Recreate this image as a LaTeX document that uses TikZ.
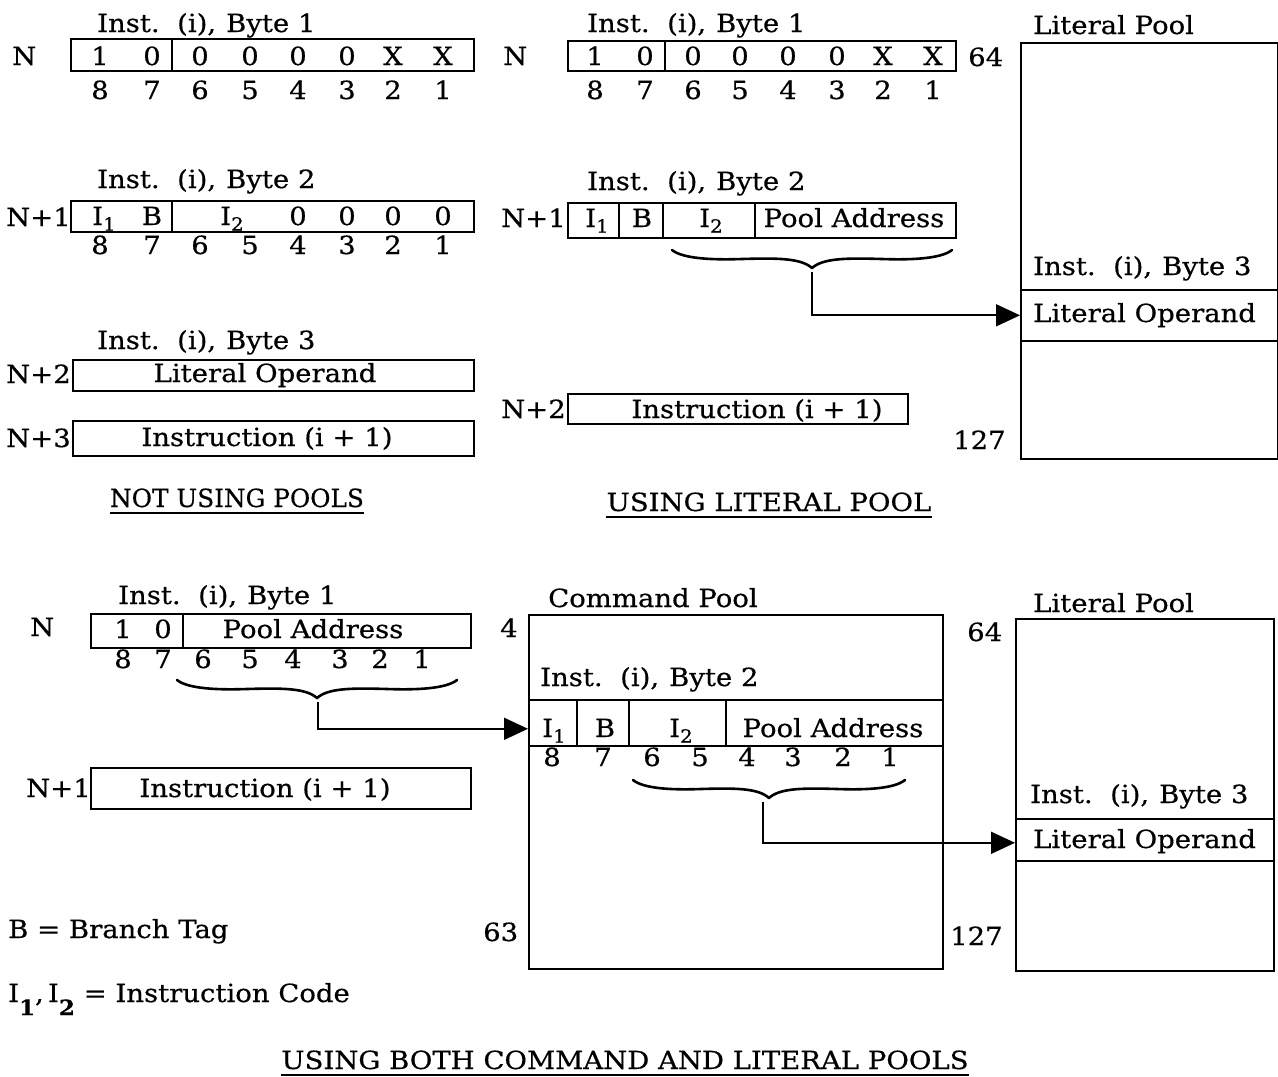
\documentclass[tikz,border=0pt]{standalone}
\usepackage{fontspec}
\setmainfont{DejaVu Serif}[FakeStretch=1.1,FakeBold=0.5]
\usetikzlibrary{arrows.meta,calc}
\newcommand\tsz{\fontsize{25}{29}\selectfont}
\newcommand\subsz{\fontsize{18}{20}\selectfont}
\newcommand\Isub[1]{I\raisebox{-0.22em}{\subsz #1}}
\newcommand\Inst[1]{Inst.\hspace{0.7em}(i),\hspace{0.4em}Byte #1}
\newcommand\mybrace[3]{% x0, x1, y  (tip points down)
  \pgfmathsetmacro\bw{(#2-#1)/2}\pgfmathsetmacro\bm{(#1+#2)/2}
  \draw[brc] (#1,#3) .. controls (#1+0.08*\bw,#3+9) and (#1+0.3*\bw,#3+10) .. (#1+0.5*\bw,#3+9)
     .. controls (#1+0.75*\bw,#3+8) and (\bm-0.08*\bw,#3+8) .. (\bm,#3+18)
     .. controls (\bm+0.08*\bw,#3+8) and (\bm+0.25*\bw,#3+8) .. (\bm+0.5*\bw,#3+9)
     .. controls (\bm+0.7*\bw,#3+10) and (#2-0.08*\bw,#3+9) .. (#2,#3);}
\begin{document}
\begin{tikzpicture}[x=1pt,y=-1pt,
  lab/.style={inner sep=0pt, font=\tsz, anchor=base west},
  ctr/.style={inner sep=0pt, font=\tsz, anchor=base},
  cell/.style={draw, line width=1.6pt, inner sep=0pt, anchor=north west},
  divl/.style={line width=1.6pt},
  conn/.style={line width=1.8pt, -{Triangle[length=24pt,width=22pt]}},
  brc/.style={line width=2.6pt, line cap=round, line join=round},
  uline/.style={line width=1.3pt}]
\useasboundingbox (0,0) rectangle (1278,1077);

% ================= NOT USING POOLS =================
\node[lab] (a1t) at (97,32) {\Inst{1}};
\node[lab] (a1n) at (12,65) {N};
\node[cell, minimum width=403, minimum height=32] (a1b) at (70,38) {};
\draw[divl] (172,38) -- (172,70);
\foreach \x/\t [count=\i] in {100/1,152/0,200/0,250/0,298/0,347/0,393/X,443/X}
  \node[ctr] (a1d\i) at (\x,65) {\t};
\foreach \x/\t [count=\i] in {100/8,152/7,200/6,250/5,298/4,347/3,393/2,443/1}
  \node[ctr] (a1e\i) at (\x,99) {\t};

\node[lab] (a2t) at (97,188) {\Inst{2}};
\node[lab] (a2n) at (6,226) {N+1};
\node[cell, minimum width=403, minimum height=31] (a2b) at (70,200) {};
\draw[divl] (172,200) -- (172,231);
\node[ctr] (a2i1) at (104,225) {\Isub{1}};
\node[ctr] (a2bb) at (152,225) {B};
\node[ctr] (a2i2) at (232,225) {\Isub{2}};
\foreach \x [count=\i] in {298,347,393,443}
  \node[ctr] (a2d\i) at (\x,225) {0};
\foreach \x/\t [count=\i] in {100/8,152/7,200/6,250/5,298/4,347/3,393/2,443/1}
  \node[ctr] (a2e\i) at (\x,254) {\t};

\node[lab] (a3t) at (97,349) {\Inst{3}};
\node[lab] (a3n) at (6,383) {N+2};
\node[cell, minimum width=401, minimum height=31] (a3b) at (72,359) {};
\node[ctr] (a3x) at (265,382) {Literal Operand};

\node[lab] (a4n) at (6,447) {N+3};
\node[cell, minimum width=401, minimum height=35] (a4b) at (72,420) {};
\node[ctr] (a4x) at (267,446) {Instruction (i + 1)};

\node[ctr] (a5) at (237,507) {\scalebox{0.9}[1]{NOT USING POOLS}};
\draw[uline] ($(a5.base west)+(0,6)$) -- ($(a5.base east)+(0,6)$);

% ================= USING LITERAL POOL =================
\node[lab] (b1t) at (587,32) {\Inst{1}};
\node[lab] (b1n) at (503,65) {N};
\node[cell, minimum width=388, minimum height=30] (b1b) at (567,40) {};
\draw[divl] (665,40) -- (665,70);
\foreach \x/\t [count=\i] in {595/1,645/0,693/0,740/0,788/0,837/0,883/X,933/X}
  \node[ctr] (b1d\i) at (\x,65) {\t};
\foreach \x/\t [count=\i] in {595/8,645/7,693/6,740/5,788/4,837/3,883/2,933/1}
  \node[ctr] (b1e\i) at (\x,99) {\t};
\node[lab] (b1a) at (968,66) {64};

\node[lab] (b2t) at (587,190) {\Inst{2}};
\node[lab] (b2n) at (501,227) {N+1};
\node[cell, minimum width=388, minimum height=35] (b2b) at (567,202) {};
\draw[divl] (619,202) -- (619,237);
\draw[divl] (663,202) -- (663,237);
\draw[divl] (755,202) -- (755,237);
\node[ctr] (b2i1) at (597,227) {\Isub{1}};
\node[ctr] (b2bb) at (642,227) {B};
\node[ctr] (b2i2) at (711,227) {\Isub{2}};
\node[ctr] (b2pa) at (854,227) {Pool Address};
\mybrace{672}{952}{250}
\coordinate (b2br) at (812,272);

\node[lab] (b3n) at (501,418) {N+2};
\node[cell, minimum width=340, minimum height=30] (b3b) at (567,393) {};
\node[ctr] (b3x) at (757,418) {Instruction (i + 1)};

\node[lab] (lp1t) at (1033,34) {Literal Pool};
\node[cell, minimum width=257, minimum height=416] (lp1) at (1020,42) {};
\node[lab] (lp1i) at (1033,275) {\Inst{3}};
\node[cell, minimum width=257, minimum height=51] (lp1op) at (1020,289) {};
\node[lab] (lp1x) at (1033,322) {Literal Operand};
\node[lab] (lp1e) at (953,449) {127};
\draw[conn] (b2br) |- (lp1op.west);

\node[ctr] (b5) at (769,511) {USING LITERAL POOL};
\draw[uline] ($(b5.base west)+(0,6)$) -- ($(b5.base east)+(0,6)$);

% ================= USING BOTH POOLS =================
\node[lab] (c1t) at (118,604) {\Inst{1}};
\node[lab] (c1n) at (30,636) {N};
\node[cell, minimum width=380, minimum height=34] (c1b) at (90,613) {};
\draw[divl] (183,613) -- (183,647);
\node[ctr] (c1d1) at (123,638) {1};
\node[ctr] (c1d2) at (163,638) {0};
\node[ctr] (c1pa) at (313,638) {Pool Address};
\foreach \x/\t [count=\i] in {123/8,163/7,203/6,250/5,293/4,340/3,380/2,422/1}
  \node[ctr] (c1e\i) at (\x,668) {\t};
\mybrace{177}{457}{680}
\coordinate (c1br) at (318,702);

\node[lab] (c2n) at (26,797) {N+1};
\node[cell, minimum width=380, minimum height=41] (c2b) at (90,767) {};
\node[ctr] (c2x) at (265,797) {Instruction (i + 1)};

\node[lab] (cp0) at (500,637) {4};
\node[lab] (cpt) at (548,607) {Command Pool};
\node[cell, minimum width=414, minimum height=354] (cp) at (528,614) {};
\node[lab] (cpi) at (540,686) {\Inst{2}};
\node[cell, minimum width=414, minimum height=46] (cprow) at (528,699) {};
\draw[divl] (577,699) -- (577,745);
\draw[divl] (629,699) -- (629,745);
\draw[divl] (726,699) -- (726,745);
\node[ctr] (cpi1) at (554,737) {\Isub{1}};
\node[ctr] (cpbb) at (605,737) {B};
\node[ctr] (cpi2) at (681,737) {\Isub{2}};
\node[ctr] (cppa) at (833,737) {Pool Address};
\foreach \x/\t [count=\i] in {552/8,603/7,652/6,700/5,747/4,793/3,843/2,890/1}
  \node[ctr] (cpe\i) at (\x,766) {\t};
\mybrace{633}{905}{780}
\coordinate (cpbr) at (763,802);
\node[lab] (cp63) at (483,941) {63};
\draw[conn] (c1br) |- ([yshift=-6pt]cprow.west);

\node[lab] (lp2t) at (1033,612) {Literal Pool};
\node[lab] (lp2a) at (967,641) {64};
\node[cell, minimum width=258, minimum height=352] (lp2) at (1015,618) {};
\node[lab] (lp2i) at (1030,803) {\Inst{3}};
\node[cell, minimum width=258, minimum height=42] (lp2op) at (1015,818) {};
\node[lab] (lp2x) at (1033,848) {Literal Operand};
\node[lab] (lp2e) at (950,945) {127};
\draw[conn] (cpbr) |- ([yshift=-3pt]lp2op.west);

\node[lab] (lg1) at (8,938) {B = Branch Tag};
\node[lab] (lg2) at (8,1002) {I\raisebox{-13pt}{\fontsize{21}{22}\selectfont\bfseries 1},\,I\raisebox{-13pt}{\fontsize{21}{22}\selectfont\bfseries 2} = Instruction Code};

\node[ctr] (c5) at (625,1069) {USING BOTH COMMAND AND LITERAL POOLS};
\draw[uline] ($(c5.base west)+(0,6)$) -- ($(c5.base east)+(0,6)$);
\end{tikzpicture}
\end{document}
